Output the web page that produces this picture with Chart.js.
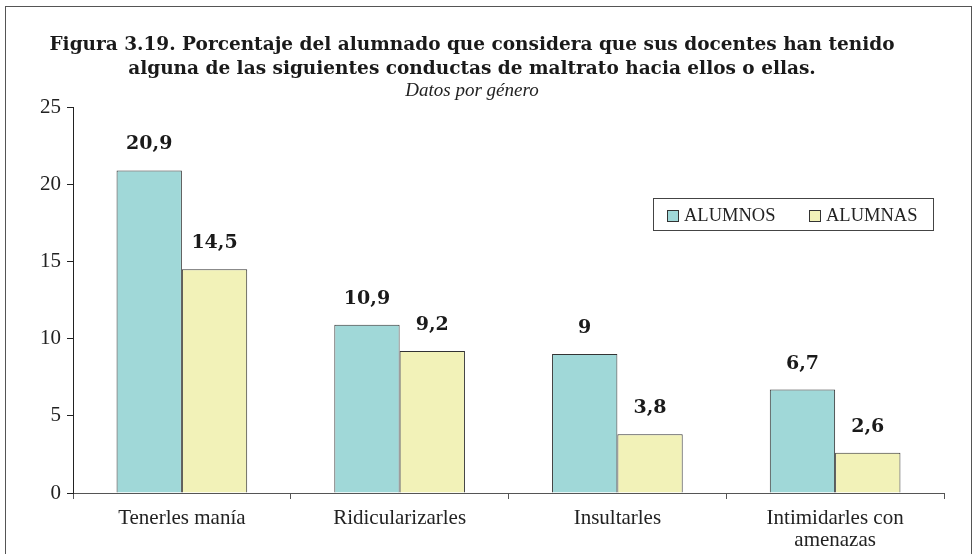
<!DOCTYPE html>
<html>
<head>
<meta charset="utf-8">
<script src="https://cdn.jsdelivr.net/npm/chart.js@4"></script>
<style>
    html, body { margin: 0; padding: 0; background: #fff; overflow: hidden; }
    #wrap { position: relative; width: 980px; height: 554px; }
    #frame { position: absolute; left: 5px; top: 6px; width: 967px; height: 600px; border: 1px solid #555; box-sizing: border-box; pointer-events: none; }
    canvas { position: absolute; left: 0; top: 0; }
</style>
</head>
<body>
<div id="wrap">
    <canvas id="chart" width="980" height="554"></canvas>
    <div id="frame"></div>
</div>
<script>
// ===== DATA =====
const categories = ['Tenerles manía', 'Ridicularizarles', 'Insultarles', ['Intimidarles con', 'amenazas']];
const alumnos = [20.9, 10.9, 9, 6.7];
const alumnas = [14.5, 9.2, 3.8, 2.6];
const seriesNames = ['ALUMNOS', 'ALUMNAS'];
const yTicks = [0, 5, 10, 15, 20, 25];

const colors = ['#a0d8d8', '#f2f2b8'];
const serif = '"Liberation Serif", "DejaVu Serif", serif';

// values above the bars, comma as decimal separator
const valueLabels = {
    id: 'valueLabels',
    afterDatasetsDraw(chart) {
        const ctx = chart.ctx;
        ctx.save();
        ctx.font = 'bold 19px "DejaVu Serif", serif';
        ctx.fillStyle = '#1a1a1a';
        ctx.textAlign = 'center';
        ctx.textBaseline = 'middle';
        chart.data.datasets.forEach((ds, i) => {
            chart.getDatasetMeta(i).data.forEach((bar, j) => {
                const txt = String(ds.data[j]).replace('.', ',');
                ctx.fillText(txt, bar.x, bar.y - 26);
            });
        });
        ctx.restore();
    }
};

// boxed legend inside the plot area
const boxLegend = {
    id: 'boxLegend',
    afterDraw(chart) {
        const ctx = chart.ctx;
        const x0 = 653, y0 = 198, w = 280, h = 32;
        ctx.save();
        ctx.fillStyle = '#fff';
        ctx.fillRect(x0, y0, w, h);
        ctx.strokeStyle = '#444';
        ctx.lineWidth = 1;
        ctx.strokeRect(x0 + 0.5, y0 + 0.5, w, h);
        ctx.font = '18.5px ' + serif;
        ctx.textBaseline = 'middle';
        ctx.textAlign = 'left';
        const items = [{ x: x0 + 14, tx: x0 + 31 }, { x: x0 + 156, tx: x0 + 173 }];
        seriesNames.forEach((name, i) => {
            const bx = items[i].x, by = y0 + 12;
            ctx.fillStyle = colors[i];
            ctx.fillRect(bx, by, 12, 12);
            ctx.strokeStyle = '#333';
            ctx.strokeRect(bx + 0.5, by + 0.5, 11, 11);
            ctx.fillStyle = '#222';
            ctx.fillText(name, items[i].tx, y0 + h / 2 + 2);
        });
        ctx.restore();
    }
};

new Chart(document.getElementById('chart'), {
    type: 'bar',
    data: {
        labels: categories,
        datasets: [
            {
                label: seriesNames[0],
                data: alumnos,
                backgroundColor: colors[0],
                borderColor: '#333',
                borderWidth: 1,
                categoryPercentage: 0.6,
                barPercentage: 1
            },
            {
                label: seriesNames[1],
                data: alumnas,
                backgroundColor: colors[1],
                borderColor: '#333',
                borderWidth: 1,
                categoryPercentage: 0.6,
                barPercentage: 1
            }
        ]
    },
    options: {
        responsive: false,
        animation: false,
        layout: { padding: { left: 0, right: 36, top: 0, bottom: 0 } },
        plugins: {
            legend: { display: false },
            tooltip: { enabled: false },
            title: {
                display: true,
                text: ['Figura 3.19. Porcentaje del alumnado que considera que sus docentes han tenido',
                       'alguna de las siguientes conductas de maltrato hacia ellos o ellas.'],
                font: { family: '"DejaVu Serif", serif', size: 18.5, weight: 'bold', lineHeight: 1.25 },
                color: '#1a1a1a',
                padding: { top: 34, bottom: 0 }
            },
            subtitle: {
                display: true,
                text: 'Datos por género',
                font: { family: serif, size: 19, style: 'italic', lineHeight: 1.15 },
                color: '#222',
                padding: { top: 0, bottom: 5 }
            }
        },
        scales: {
            x: {
                grid: { display: true, drawOnChartArea: false, offset: true, tickLength: 6, color: '#555' },
                border: { color: '#555', width: 1 },
                ticks: { color: '#222', font: { family: serif, size: 21, lineHeight: 1.05 }, maxRotation: 0, padding: 8 },
                afterFit(s) { s.height = 61; }
            },
            y: {
                min: 0,
                max: 25,
                afterBuildTicks(s) { s.ticks = yTicks.map(v => ({ value: v })); },
                grid: { display: true, drawOnChartArea: false, tickLength: 6, color: '#222' },
                border: { color: '#222', width: 1 },
                ticks: { color: '#222', font: { family: serif, size: 21 }, padding: 6 },
                afterFit(s) { s.width = 73; }
            }
        }
    },
    plugins: [valueLabels, boxLegend]
});
</script>
</body>
</html>
